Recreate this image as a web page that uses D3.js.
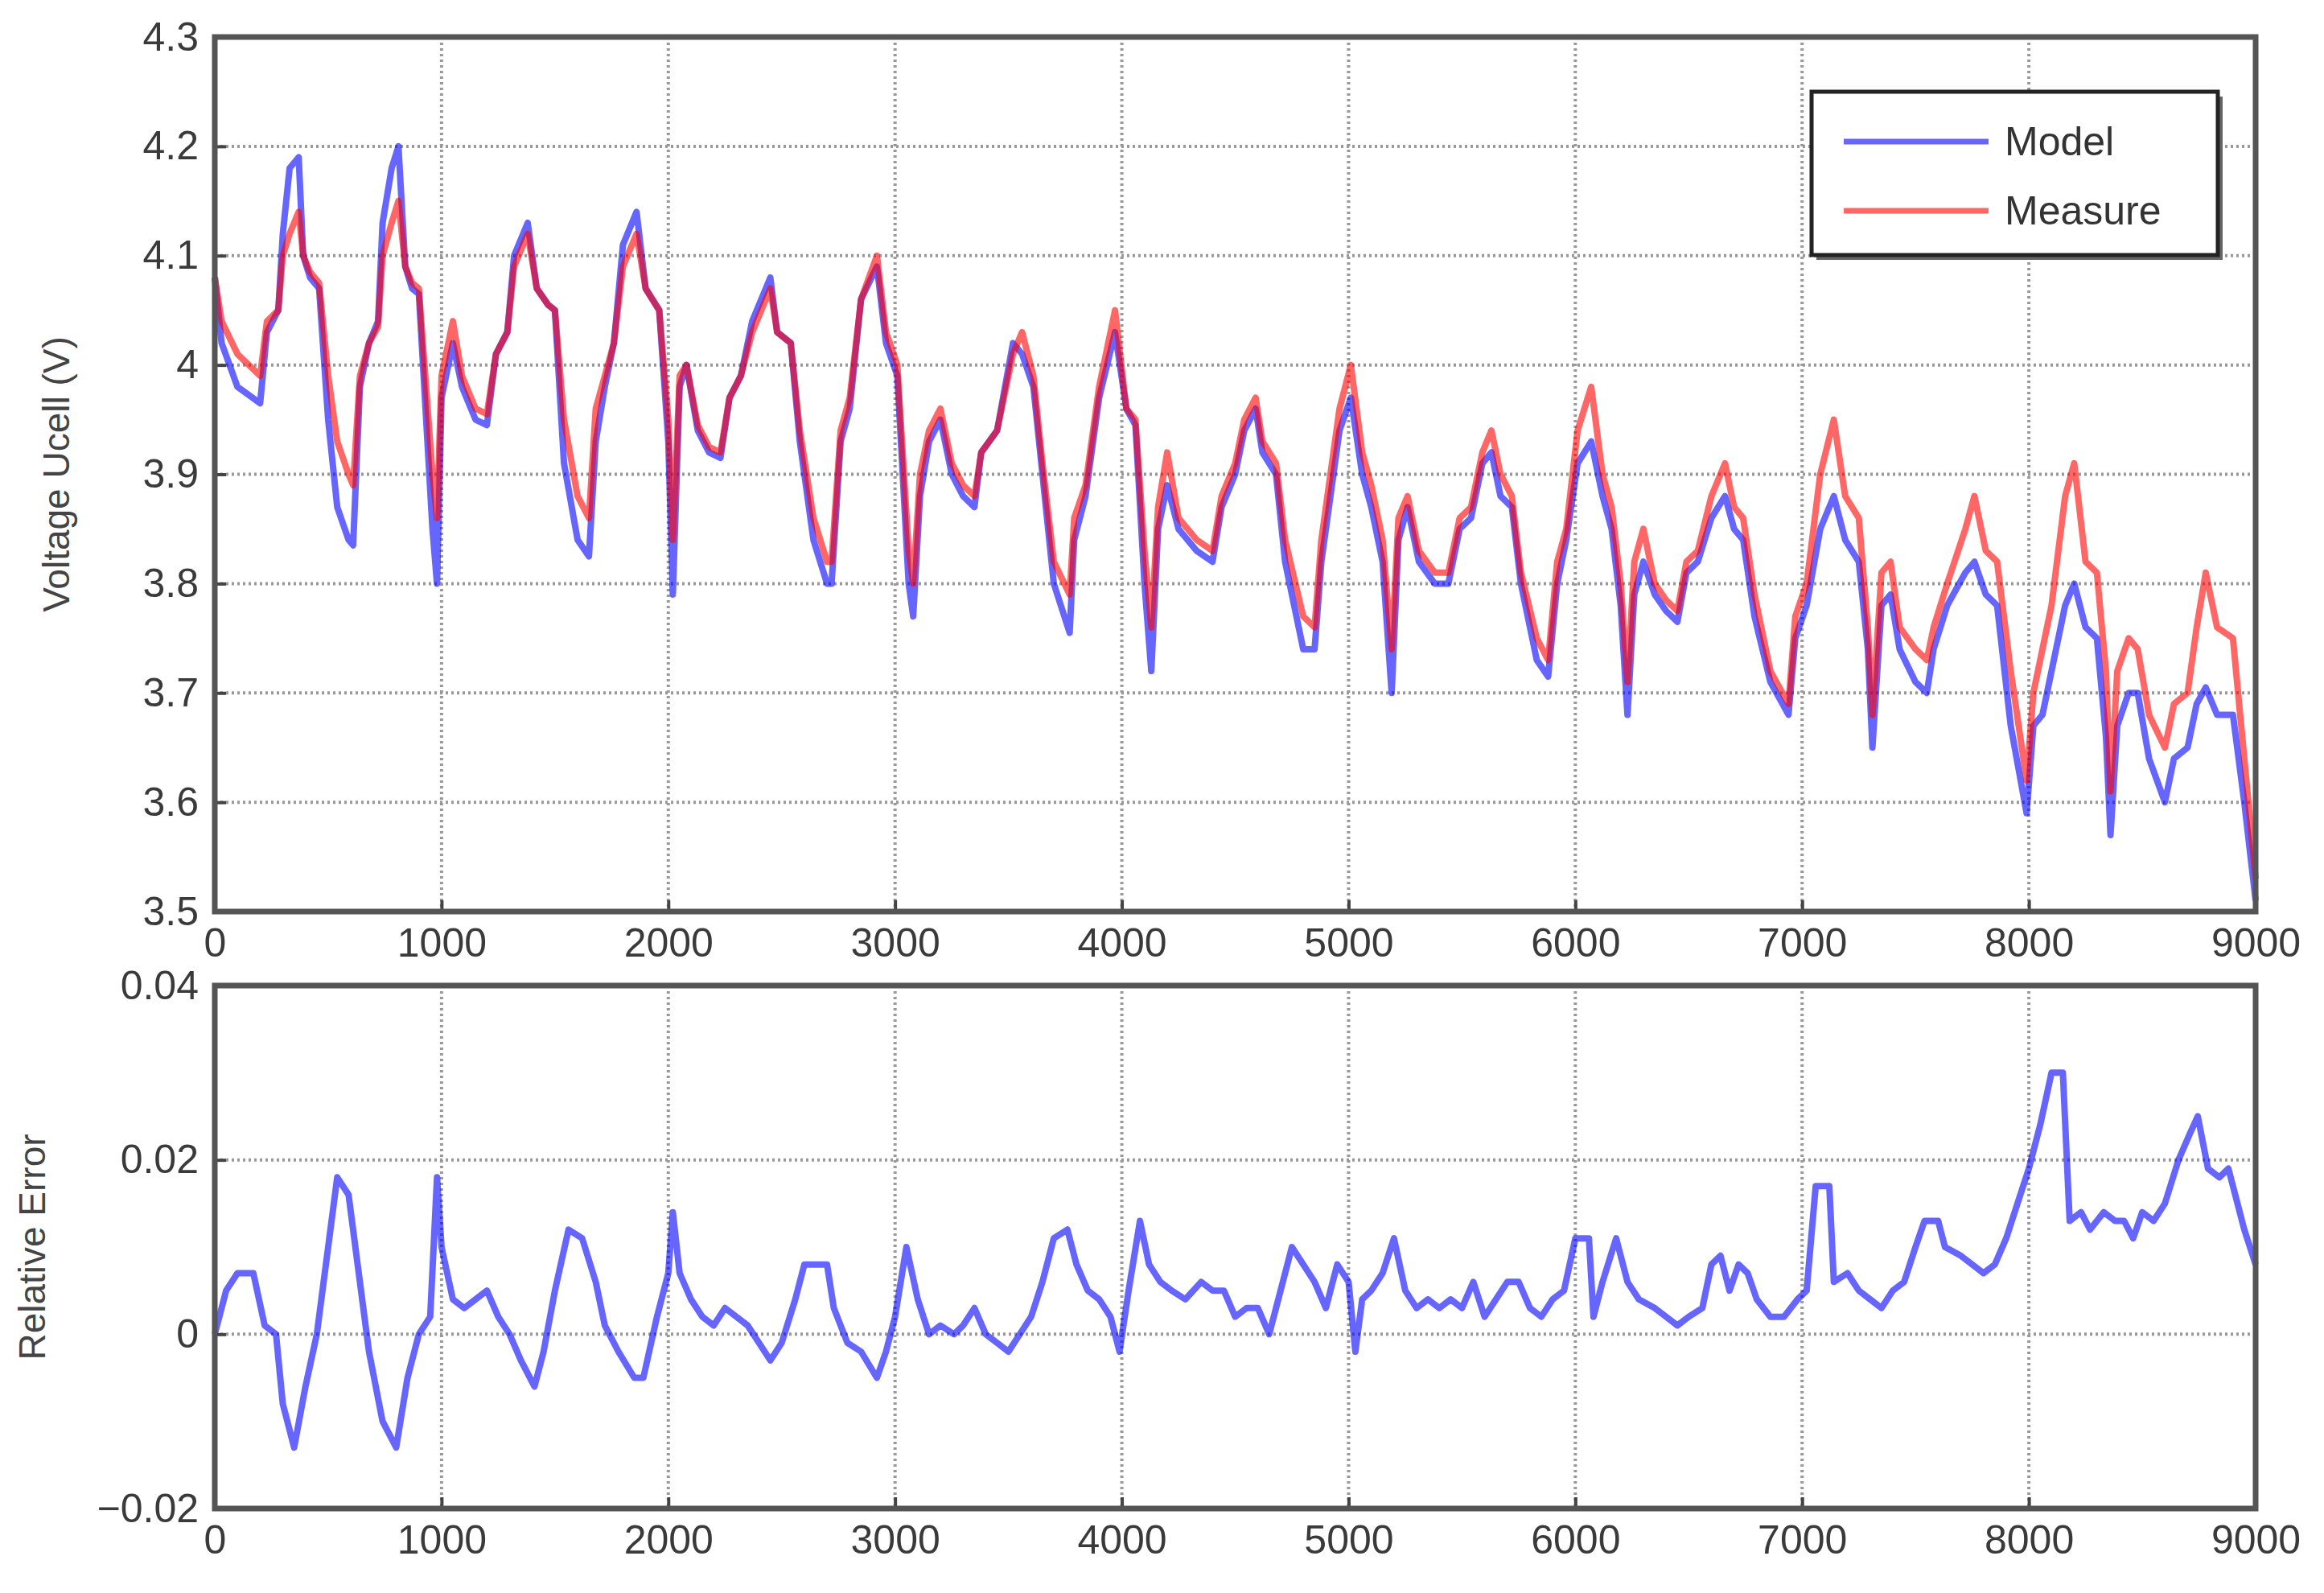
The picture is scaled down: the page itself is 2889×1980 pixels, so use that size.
<!DOCTYPE html>
<html><head><meta charset="utf-8">
<script src="https://cdn.jsdelivr.net/npm/d3@7"></script>
<style>body{margin:0;background:#fff}text{font-family:"Liberation Sans",Arial,sans-serif}</style>
</head><body><svg id="c" width="2889" height="1980"></svg>
<script>
const timeV=[0,30,100,200,230,280,300,330,370,390,420,460,500,540,590,610,640,680,720,740,780,810,840,870,900,960,980,1000,1050,1090,1150,1200,1240,1290,1320,1380,1420,1470,1500,1540,1600,1650,1680,1720,1760,1800,1860,1900,1960,2000,2020,2050,2080,2130,2180,2230,2270,2320,2370,2450,2480,2540,2580,2640,2700,2720,2760,2800,2850,2920,2960,3010,3060,3080,3110,3150,3200,3250,3300,3350,3380,3450,3520,3560,3610,3650,3700,3770,3790,3840,3900,3970,4020,4060,4100,4130,4160,4200,4250,4330,4400,4440,4500,4540,4590,4620,4680,4720,4800,4850,4880,4920,4960,5010,5060,5100,5150,5190,5220,5260,5310,5380,5440,5490,5540,5590,5630,5670,5720,5760,5830,5880,5920,5960,6010,6070,6120,6160,6200,6230,6260,6300,6350,6400,6450,6490,6540,6600,6660,6700,6740,6790,6860,6940,6970,7020,7080,7140,7190,7250,7290,7310,7350,7390,7430,7500,7550,7580,7640,7720,7760,7810,7860,7920,7990,8020,8060,8100,8160,8200,8250,8300,8340,8360,8390,8440,8480,8530,8600,8640,8700,8740,8780,8830,8900,8950,9000];
const model=[4.08,4.02,3.98,3.965,4.03,4.05,4.12,4.18,4.19,4.10,4.08,4.07,3.95,3.87,3.84,3.835,3.98,4.02,4.04,4.13,4.18,4.20,4.09,4.07,4.065,3.85,3.80,3.97,4.02,3.98,3.95,3.945,4.01,4.03,4.10,4.13,4.07,4.055,4.05,3.91,3.84,3.825,3.93,3.98,4.02,4.11,4.14,4.07,4.05,3.93,3.79,3.98,4.00,3.94,3.92,3.915,3.97,3.99,4.04,4.08,4.03,4.02,3.93,3.84,3.80,3.80,3.93,3.96,4.06,4.09,4.02,3.99,3.80,3.77,3.88,3.93,3.95,3.90,3.88,3.87,3.92,3.94,4.02,4.01,3.98,3.90,3.80,3.755,3.84,3.88,3.97,4.03,3.96,3.945,3.80,3.72,3.85,3.89,3.85,3.83,3.82,3.87,3.90,3.94,3.96,3.92,3.90,3.82,3.74,3.74,3.82,3.88,3.94,3.97,3.90,3.87,3.82,3.70,3.84,3.87,3.82,3.80,3.80,3.85,3.86,3.91,3.92,3.88,3.87,3.80,3.73,3.715,3.80,3.84,3.91,3.93,3.88,3.85,3.78,3.68,3.79,3.82,3.79,3.775,3.765,3.81,3.82,3.86,3.88,3.85,3.84,3.77,3.71,3.68,3.75,3.78,3.85,3.88,3.84,3.82,3.74,3.65,3.78,3.79,3.74,3.71,3.70,3.74,3.78,3.81,3.82,3.79,3.78,3.67,3.59,3.67,3.68,3.72,3.78,3.80,3.76,3.75,3.66,3.57,3.67,3.70,3.70,3.64,3.60,3.64,3.65,3.69,3.705,3.68,3.68,3.60,3.51];
const measure=[4.08,4.04,4.01,3.99,4.04,4.05,4.10,4.12,4.14,4.10,4.085,4.075,3.99,3.93,3.90,3.89,3.99,4.02,4.035,4.10,4.13,4.15,4.09,4.075,4.07,3.90,3.86,3.99,4.04,3.99,3.96,3.955,4.01,4.03,4.09,4.12,4.07,4.055,4.05,3.95,3.88,3.86,3.96,3.99,4.02,4.09,4.12,4.07,4.05,3.95,3.84,3.99,4.00,3.945,3.925,3.92,3.97,3.99,4.03,4.07,4.03,4.02,3.94,3.86,3.82,3.82,3.94,3.97,4.06,4.10,4.03,4.00,3.83,3.80,3.90,3.94,3.96,3.91,3.89,3.88,3.92,3.94,4.01,4.03,3.99,3.91,3.82,3.79,3.86,3.89,3.98,4.05,3.96,3.95,3.83,3.76,3.87,3.92,3.86,3.84,3.83,3.88,3.91,3.95,3.97,3.93,3.91,3.84,3.77,3.76,3.84,3.90,3.96,4.00,3.92,3.89,3.84,3.74,3.86,3.88,3.83,3.81,3.81,3.86,3.87,3.92,3.94,3.90,3.88,3.81,3.75,3.73,3.82,3.85,3.94,3.98,3.90,3.87,3.80,3.71,3.82,3.85,3.80,3.785,3.775,3.82,3.83,3.88,3.91,3.87,3.86,3.79,3.72,3.69,3.77,3.80,3.90,3.95,3.88,3.86,3.76,3.68,3.81,3.82,3.76,3.74,3.73,3.76,3.80,3.85,3.88,3.83,3.82,3.72,3.62,3.70,3.74,3.78,3.88,3.91,3.82,3.81,3.72,3.61,3.72,3.75,3.74,3.68,3.65,3.69,3.70,3.76,3.81,3.76,3.75,3.64,3.53];
const timeE=[0,50,100,170,220,270,300,350,400,450,500,540,590,630,680,740,800,850,900,950,980,1000,1050,1100,1150,1200,1250,1300,1350,1410,1450,1500,1560,1620,1680,1720,1780,1850,1890,1950,2000,2020,2050,2100,2150,2200,2250,2300,2350,2400,2450,2500,2560,2600,2700,2730,2790,2850,2920,2960,3000,3050,3100,3150,3200,3260,3300,3350,3400,3450,3500,3550,3600,3650,3700,3760,3800,3850,3900,3950,3990,4030,4080,4120,4170,4220,4280,4350,4400,4450,4500,4550,4600,4650,4700,4750,4800,4850,4900,4950,5000,5030,5060,5100,5150,5200,5250,5300,5350,5400,5450,5500,5550,5600,5650,5700,5750,5800,5850,5900,5950,6000,6060,6080,6120,6180,6230,6280,6350,6400,6450,6500,6560,6600,6640,6680,6720,6760,6800,6860,6920,6980,7020,7060,7120,7140,7200,7250,7300,7350,7400,7450,7500,7540,7600,7630,7700,7750,7800,7850,7900,7950,8000,8050,8100,8150,8180,8230,8270,8330,8380,8420,8460,8500,8550,8600,8660,8710,8745,8790,8840,8880,8950,9000];
const relErr=[0,0.005,0.007,0.007,0.001,0,-0.008,-0.013,-0.006,0,0.01,0.018,0.016,0.008,-0.002,-0.01,-0.013,-0.005,0,0.002,0.018,0.01,0.004,0.003,0.004,0.005,0.002,0,-0.003,-0.006,-0.002,0.005,0.012,0.011,0.006,0.001,-0.002,-0.005,-0.005,0.002,0.007,0.014,0.007,0.004,0.002,0.001,0.003,0.002,0.001,-0.001,-0.003,-0.001,0.004,0.008,0.008,0.003,-0.001,-0.002,-0.005,-0.002,0.002,0.01,0.004,0,0.001,0,0.001,0.003,0,-0.001,-0.002,0,0.002,0.006,0.011,0.012,0.008,0.005,0.004,0.002,-0.002,0.005,0.013,0.008,0.006,0.005,0.004,0.006,0.005,0.005,0.002,0.003,0.003,0,0.005,0.01,0.008,0.006,0.003,0.008,0.006,-0.002,0.004,0.005,0.007,0.011,0.005,0.003,0.004,0.003,0.004,0.003,0.006,0.002,0.004,0.006,0.006,0.003,0.002,0.004,0.005,0.011,0.011,0.002,0.006,0.011,0.006,0.004,0.003,0.002,0.001,0.002,0.003,0.008,0.009,0.005,0.008,0.007,0.004,0.002,0.002,0.004,0.005,0.017,0.017,0.006,0.007,0.005,0.004,0.003,0.005,0.006,0.010,0.013,0.013,0.010,0.009,0.008,0.007,0.008,0.011,0.015,0.019,0.024,0.030,0.030,0.013,0.014,0.012,0.014,0.013,0.013,0.011,0.014,0.013,0.015,0.020,0.023,0.025,0.019,0.018,0.019,0.012,0.008];
const xTicks=[0,1000,2000,3000,4000,5000,6000,7000,8000,9000];
const vTicks=[3.5,3.6,3.7,3.8,3.9,4,4.1,4.2,4.3];
const eTicks=[-0.02,0,0.02,0.04];

const svg=d3.select("#c");
const L=267,R=2804;
const x=d3.scaleLinear().domain([0,9000]).range([L,R]);
function panel(top,bot,yDomain,ticks,fmt,label,series){
  const y=d3.scaleLinear().domain(yDomain).range([bot,top]);
  const g=svg.append("g");
  g.selectAll(".gx").data(xTicks.slice(1,-1)).join("line").attr("x1",d=>x(d)).attr("x2",d=>x(d)).attr("y1",top).attr("y2",bot).attr("stroke","#999").attr("stroke-width",4).attr("stroke-dasharray","3,4");
  g.selectAll(".gy").data(ticks.slice(1,-1)).join("line").attr("x1",L).attr("x2",R).attr("y1",d=>y(d)).attr("y2",d=>y(d)).attr("stroke","#999").attr("stroke-width",4).attr("stroke-dasharray","3,4");
  series.forEach(s=>{
    const line=d3.line().x((d,i)=>x(s.t[i])).y(d=>y(d));
    g.append("path").datum(s.v).attr("d",line).attr("fill","none").attr("stroke",s.c).attr("stroke-opacity",0.6).attr("stroke-width",8).attr("stroke-linejoin","round");
  });
  const ax=g.append("g").attr("transform",`translate(0,${bot})`).call(d3.axisBottom(x).tickValues(xTicks).tickSize(-14).tickPadding(20).tickFormat(d3.format("d")));
  const ay=g.append("g").attr("transform",`translate(${L},0)`).call(d3.axisLeft(y).tickValues(ticks).tickSize(-14).tickPadding(20).tickFormat(fmt));
  [ax,ay].forEach(a=>{a.select(".domain").remove();a.selectAll("line").attr("stroke","#444").attr("stroke-width",4);a.selectAll("text").attr("font-size",50).attr("fill","#3a3a3a");});
  g.append("rect").attr("x",L).attr("y",top).attr("width",R-L).attr("height",bot-top).attr("fill","none").attr("stroke","#555").attr("stroke-width",7);
  g.append("text").attr("transform",`translate(${label.x},${(top+bot)/2}) rotate(-90)`).attr("text-anchor","middle").attr("font-size",46).attr("fill","#444").text(label.t);
  return y;
}
panel(46,1133,[3.5,4.3],vTicks,d=>d3.format("")(d),{x:86,t:"Voltage Ucell (V)"},
  [{t:timeV,v:model,c:"#0000ff"},{t:timeV,v:measure,c:"#ff0000"}]);
panel(1225,1875,[-0.02,0.04],eTicks,d=>d===0?"0":d3.format(".2f")(d).replace("-","\u2212"),{x:56,t:"Relative Error"},
  [{t:timeE,v:relErr,c:"#0000ff"}]);
const lg=svg.append("g").attr("transform","translate(2252,114)");
lg.append("rect").attr("x",6).attr("y",6).attr("width",505).attr("height",203).attr("fill","#666");
lg.append("rect").attr("width",505).attr("height",203).attr("fill","#fff").attr("stroke","#222").attr("stroke-width",5);
[["Model","#0000ff"],["Measure","#ff0000"]].forEach((d,i)=>{
  const yy=62+i*86;
  lg.append("line").attr("x1",40).attr("x2",220).attr("y1",yy).attr("y2",yy).attr("stroke",d[1]).attr("stroke-opacity",0.6).attr("stroke-width",7);
  lg.append("text").attr("x",240).attr("y",yy+17).attr("font-size",50).attr("fill","#333").text(d[0]);
});
</script></body></html>
